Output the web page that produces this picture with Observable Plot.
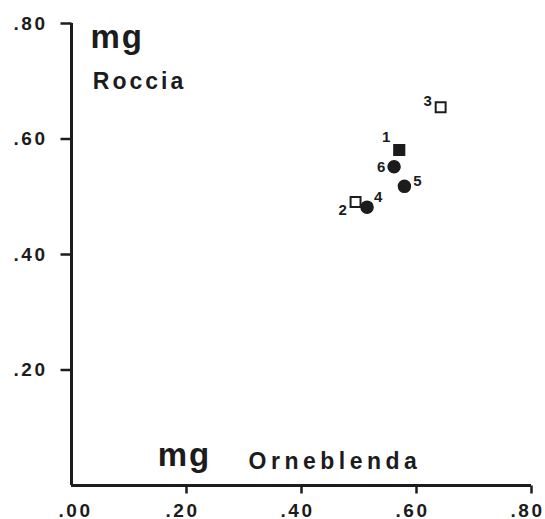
<!DOCTYPE html>
<html>
<head>
<meta charset="utf-8">
<script src="https://cdn.jsdelivr.net/npm/d3@7"></script>
<script src="https://cdn.jsdelivr.net/npm/@observablehq/plot@0.6"></script>
<style>
  html, body { margin: 0; padding: 0; background: #fff; }
  #chart { width: 545px; height: 519px; }
</style>
</head>
<body>
<div id="chart"></div>
<script>
// ---- data ----
const sampleIds = ["1", "2", "3", "4", "5", "6"];
const mgOrneblenda = [0.570, 0.494, 0.642, 0.514, 0.579, 0.561];
const mgRoccia     = [0.581, 0.491, 0.655, 0.482, 0.518, 0.552];
const markerKind   = ["filled square", "open square", "open square", "circle", "circle", "circle"];

const xTickValues = [0, 0.2, 0.4, 0.6, 0.8];
const yTickValues = [0.2, 0.4, 0.6, 0.8];
const tickLabel = d => d3.format(".2f")(d).replace(/^0/, "");

// axis title annotations (positions in data units)
const titleTexts = ["mg", "Roccia", "mg", "Orneblenda"];
const titleX = [0.033, 0.037, 0.150, 0.308];
const titleY = [0.758, 0.687, 0.033, 0.029];

const points = sampleIds.map((id, i) => ({id, x: mgOrneblenda[i], y: mgRoccia[i], kind: markerKind[i]}));
const titles = titleTexts.map((t, i) => ({t, x: titleX[i], y: titleY[i]}));

// layout: frame includes the room for the tick marks
const W = 545, H = 519;
const pxX = 575, pxY = 577.5;          // pixels per data unit
const mL = 55, mR = 10, mT = 18, mB = 25;
const originX = 71, originY = 485;      // pixel position of (0, 0)
const xDom = [-(originX - mL) / pxX, (W - mR - originX) / pxX];
const yDom = [-((H - mB) - originY) / pxY, (originY - mT) / pxY];
const xTickLen = 8 / pxY;   // x ticks point down 8 px
const yTickLen = 11 / pxX;  // y ticks point left 11 px

const ink = "#1c1c1c";
const font = "Liberation Sans, Arial, Helvetica, sans-serif";

function lbl(id, dx, dy) {
  return Plot.text(points.filter(p => p.id === id), {
    x: "x", y: "y", text: "id", dx, dy,
    fontSize: 15, fontWeight: "bold", fill: ink, fontFamily: font
  });
}
function title(i, size) {
  return Plot.text([titles[i]], {x: "x", y: "y", text: "t", textAnchor: "start", lineAnchor: "bottom",
    fontSize: size, fontWeight: "bold", fill: ink, fontFamily: font});
}

const chart = Plot.plot({
  width: W,
  height: H,
  marginLeft: mL,
  marginRight: mR,
  marginTop: mT,
  marginBottom: mB,
  x: {domain: xDom},
  y: {domain: yDom},
  marks: [
    // tick labels
    Plot.axisX({ticks: xTickValues.slice(0, 1), tickSize: 0, tickPadding: 9, tickFormat: tickLabel, label: null,
                fontSize: 19, fontWeight: "bold", fontFamily: font, fill: ink, dx: 4}),
    Plot.axisX({ticks: xTickValues.slice(1), tickSize: 0, tickPadding: 9, tickFormat: tickLabel, label: null,
                fontSize: 19, fontWeight: "bold", fontFamily: font, fill: ink, dx: -4}),
    Plot.axisY({ticks: yTickValues, tickSize: 0, tickPadding: 8, tickFormat: tickLabel, label: null,
                fontSize: 19, fontWeight: "bold", fontFamily: font, fill: ink}),
    // axis lines
    Plot.ruleX([0], {y1: 0, y2: 0.8, strokeWidth: 3, stroke: ink}),
    Plot.ruleY([0], {x1: 0, x2: 0.8, strokeWidth: 3, stroke: ink}),
    // axis titles
    title(0, 33),
    title(1, 23),
    title(2, 33),
    title(3, 23),
    // points
    Plot.dot(points.filter(p => p.kind === "circle"), {x: "x", y: "y", r: 6, fill: ink, stroke: ink, symbol: "circle"}),
    Plot.dot(points.filter(p => p.kind === "filled square"), {x: "x", y: "y", r: 6, fill: ink, stroke: ink, symbol: "square"}),
    Plot.dot(points.filter(p => p.kind === "open square"), {x: "x", y: "y", r: 5.6, fill: "#fff", stroke: ink, strokeWidth: 2, symbol: "square"}),
    lbl("1", -13, -13),
    lbl("2", -13, 8),
    lbl("3", -13, -6),
    lbl("4", 11, -10),
    lbl("5", 13, -5),
    lbl("6", -13, 0),
    // tick marks, drawn last
    Plot.link(yTickValues, {x1: d => d, x2: d => d, y1: () => 0, y2: () => -xTickLen, strokeWidth: 2.5, stroke: ink}),
    Plot.link(yTickValues, {y1: d => d, y2: d => d, x1: () => 0, x2: () => -yTickLen, strokeWidth: 2.5, stroke: ink})
  ]
});

const svg = d3.select(chart);
svg.selectAll('[aria-label="x-axis tick label"] text').attr("letter-spacing", 2.5);
svg.selectAll('[aria-label="y-axis tick label"] text').attr("letter-spacing", 2.5);
const spacing = {"mg": 2, "Roccia": 3, "Orneblenda": 4.5};
svg.selectAll("text").each(function () {
  const s = spacing[this.textContent];
  if (s !== undefined) this.setAttribute("letter-spacing", s);
});

document.getElementById("chart").append(chart);
</script>
</body>
</html>
